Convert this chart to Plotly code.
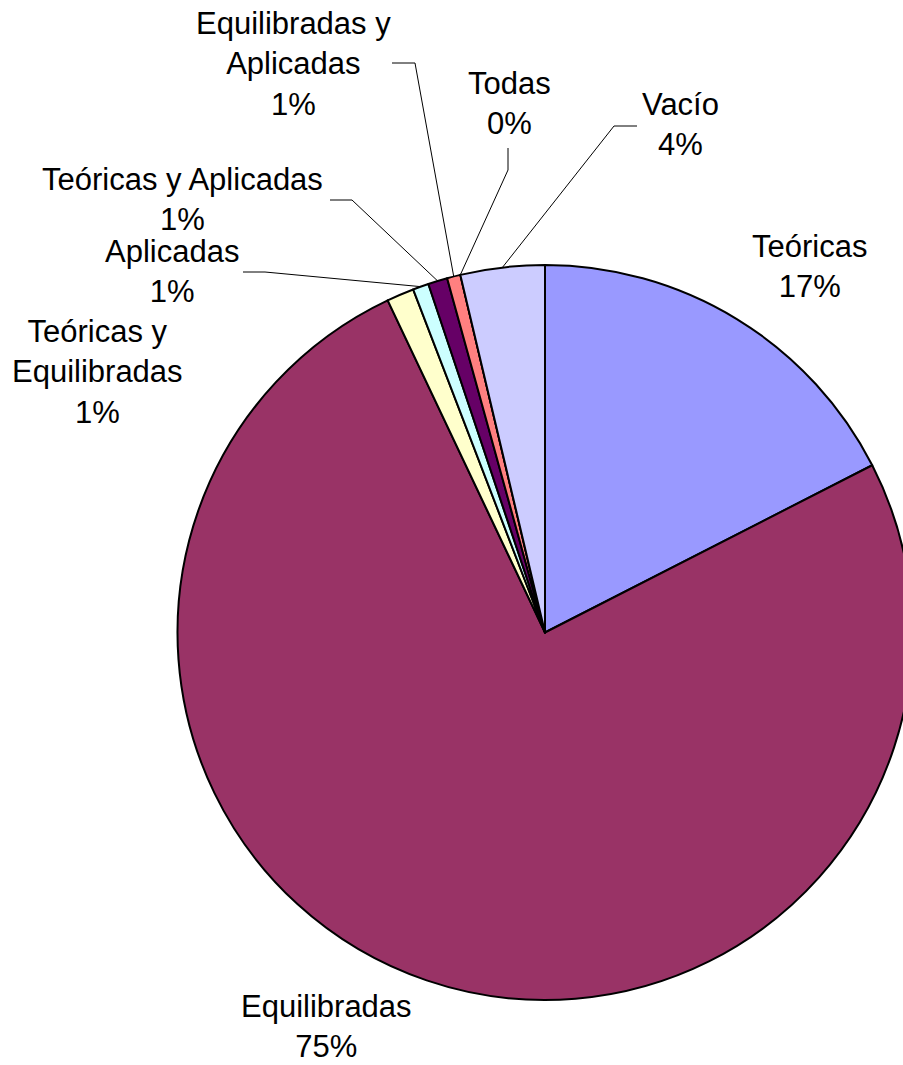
import math
import plotly.graph_objects as go

# ---------------- data ----------------
categories = ["Teóricas", "Equilibradas", "Teóricas y Equilibradas", "Aplicadas",
              "Teóricas y Aplicadas", "Equilibradas y Aplicadas", "Todas", "Vacío"]
display_names = ["Teóricas", "Equilibradas", "Teóricas y<br>Equilibradas", "Aplicadas",
                 "Teóricas y Aplicadas", "Equilibradas y<br>Aplicadas", "Todas", "Vacío"]
shares = [17.48, 75.48, 1.20, 0.70, 0.85, 0.59, 0.0, 3.70]
slice_colors = ["#9999FF", "#993366", "#FFFFCC", "#CCFFFF",
                "#660066", "#FF8080", "#0066CC", "#CCCCFF"]

# ---------------- layout (pixels) ----------------
W, H = 920, 1065
PIE_CX, PIE_CY, PIE_R = 545.0, 632.5, 367.5
FONT = "Liberation Sans, Arial, sans-serif"
FONT_SIZE = 31

# label centre positions (pixels from top-left)
label_pos = {
    "Teóricas": (809, 266),
    "Equilibradas": (326.5, 1026.5),
    "Teóricas y Equilibradas": (97.5, 372),
    "Aplicadas": (171.5, 271),
    "Teóricas y Aplicadas": (182, 199.5),
    "Equilibradas y Aplicadas": (293.5, 64),
    "Todas": (509, 103.5),
    "Vacío": (680, 124.5),
}
# leader-line elbows (label side) for labels that have a leader line
leader_elbows = {
    "Aplicadas": [(243, 272), (265, 272)],
    "Teóricas y Aplicadas": [(330, 200), (352, 200)],
    "Equilibradas y Aplicadas": [(392, 63), (415, 63)],
    "Todas": [(508, 148), (508, 170)],
    "Vacío": [(637, 126), (614, 126)],
}

total = sum(shares)
pct_text = [f"{int(math.floor(v / total * 100 + 0.5))}%" for v in shares]

fig = go.Figure()

fig.add_trace(go.Pie(
    labels=categories,
    values=shares,
    sort=False,
    direction="clockwise",
    rotation=0,
    marker=dict(colors=slice_colors, line=dict(color="black", width=2)),
    textinfo="none",
    hoverinfo="skip",
    showlegend=False,
    domain=dict(x=[(PIE_CX - PIE_R) / W, (PIE_CX + PIE_R) / W],
                y=[(H - PIE_CY - PIE_R) / H, (H - PIE_CY + PIE_R) / H]),
))

# mid-angle of each slice (clockwise from 12 o'clock), computed from the data
cum = 0.0
mid_angle = {}
for name, v in zip(categories, shares):
    mid_angle[name] = (cum + v / 2) / total * 360.0
    cum += v

for name, elbows in leader_elbows.items():
    a = math.radians(mid_angle[name])
    rx = PIE_CX + PIE_R * math.sin(a)
    ry = PIE_CY - PIE_R * math.cos(a)
    xs = [p[0] for p in elbows] + [rx]
    ys = [p[1] for p in elbows] + [ry]
    fig.add_trace(go.Scatter(x=xs, y=ys, mode="lines",
                             line=dict(color="black", width=1),
                             hoverinfo="skip", showlegend=False))

for name, disp, pct in zip(categories, display_names, pct_text):
    x, y = label_pos[name]
    fig.add_annotation(x=x, y=y, xref="x", yref="y", text=f"{disp}<br>{pct}",
                       showarrow=False, xanchor="center", yanchor="middle",
                       align="center",
                       font=dict(family=FONT, size=FONT_SIZE, color="black"))

fig.update_layout(
    width=W, height=H,
    margin=dict(l=0, r=0, t=0, b=0),
    paper_bgcolor="white", plot_bgcolor="rgba(0,0,0,0)",
    xaxis=dict(range=[0, W], visible=False, fixedrange=True, domain=[0, 1]),
    yaxis=dict(range=[H, 0], visible=False, fixedrange=True, domain=[0, 1]),
    showlegend=False,
)

fig.write_html("out.html",
               config={"displayModeBar": False, "staticPlot": True},
               post_script="document.body.style.margin='0';"
                           "document.body.style.overflow='hidden';"
                           "document.documentElement.style.overflow='hidden';")
